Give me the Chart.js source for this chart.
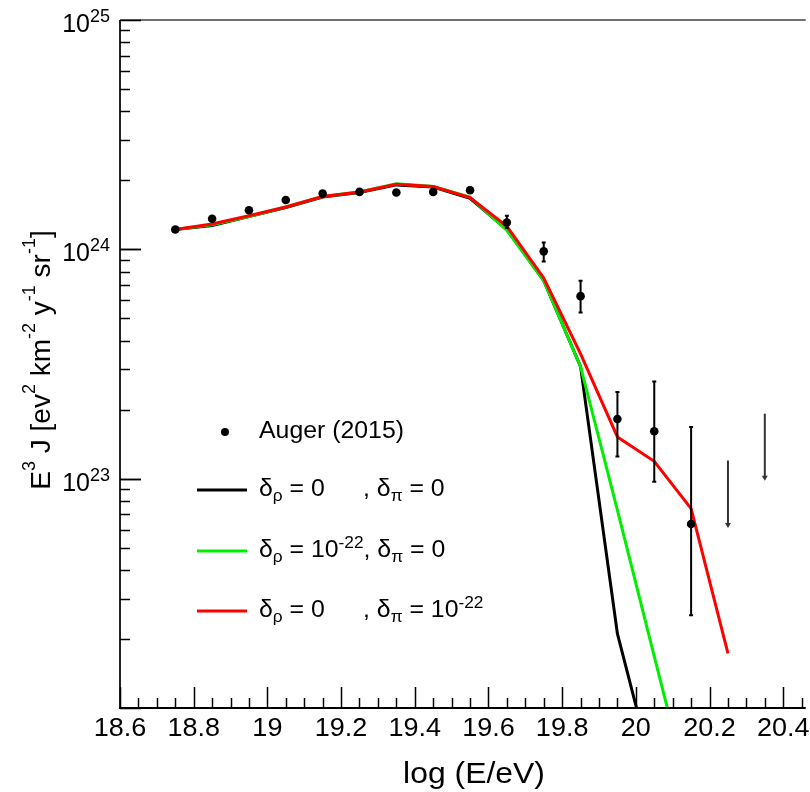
<!DOCTYPE html>
<html lang="en">
<head>
<meta charset="UTF-8" />
<title>UHECR spectrum vs Auger (2015)</title>
<script src="https://cdn.jsdelivr.net/npm/chart.js"></script>
<style>
  body { margin: 0; background: #fff; }
  #wrap { width: 810px; height: 792px; }
</style>
</head>
<body>
<div id="wrap"><canvas id="spectrumChart" width="810" height="792"></canvas></div>
<script>
// bin centres, log10(E/eV)
const logE = [18.75, 18.85, 18.95, 19.05, 19.15, 19.25, 19.35, 19.45, 19.55,
              19.65, 19.75, 19.85, 19.95, 20.05, 20.15, 20.25];

// Auger (2015) points, E^3 J
const augerFlux = [1.22e24, 1.36e24, 1.48e24, 1.64e24, 1.75e24, 1.78e24, 1.77e24, 1.78e24, 1.81e24,
                   1.31e24, 9.8e23, 6.25e23, 1.82e23, 1.61e23, 6.34e22, null];
const augerLow  = [1.19e24, 1.33e24, 1.45e24, 1.61e24, 1.72e24, 1.75e24, 1.74e24, 1.74e24, 1.76e24,
                   1.24e24, 8.85e23, 5.3e23, 1.25e23, 9.7e22, 2.54e22, null];
const augerHigh = [1.25e24, 1.39e24, 1.51e24, 1.67e24, 1.78e24, 1.81e24, 1.80e24, 1.82e24, 1.86e24,
                   1.40e24, 1.07e24, 7.3e23, 2.39e23, 2.65e23, 1.68e23, null];

// upper limits (arrow pointing down)
const limitX      = [20.25, 20.35];
const limitTop    = [1.2e23, 1.92e23];
const limitBottom = [6.1e22, 9.8e22];

// model curves
const fluxBlack = [1.22e24, 1.27e24, 1.39e24, 1.52e24, 1.69e24, 1.77e24, 1.91e24, 1.87e24, 1.67e24,
                   1.22e24, 7.3e23, 3.08e23, 2.11e22, 5.0e21, null, null];
const fluxGreen = [1.22e24, 1.28e24, 1.39e24, 1.53e24, 1.70e24, 1.78e24, 1.93e24, 1.88e24, 1.69e24,
                   1.21e24, 7.3e23, 3.08e23, 7.3e22, 1.68e22, 3.9e21, null];
const fluxRed   = [1.22e24, 1.29e24, 1.40e24, 1.53e24, 1.70e24, 1.78e24, 1.92e24, 1.88e24, 1.68e24,
                   1.26e24, 7.5e23, 3.5e23, 1.52e23, 1.19e23, 7.4e22, 1.73e22];

const xTickLabels = ['18.6', '18.8', '19', '19.2', '19.4', '19.6', '19.8', '20', '20.2', '20.4'];
const yTickExponents = [23, 24, 25];

const FONT = '"Liberation Sans", Arial, Helvetica, sans-serif';
const xMin = 18.6, xMax = 20.461;

function toPoints(arr) {
  return logE.map((x, i) => ({ x: x, y: arr[i] }));
}

// text made of pieces [text, size, dy]; sx stretches glyphs horizontally
function drawRich(ctx, parts, x, y, align, sx) {
  sx = sx || 1;
  const widths = parts.map(p => { ctx.font = p[1] + 'px ' + FONT; return ctx.measureText(p[0]).width * sx; });
  const total = widths.reduce((a, b) => a + b, 0);
  let cx = align === 'center' ? x - total / 2 : (align === 'right' ? x - total : x);
  ctx.textAlign = 'left';
  parts.forEach((p, i) => {
    ctx.font = p[1] + 'px ' + FONT;
    ctx.save();
    ctx.translate(cx, y + p[2]);
    ctx.scale(sx, 1);
    ctx.fillText(p[0], 0, 0);
    ctx.restore();
    cx += widths[i];
  });
  return cx;
}

const errorBars = {
  id: 'errorBars',
  afterDatasetsDraw(chart) {
    const ctx = chart.ctx, xs = chart.scales.x, ys = chart.scales.y;
    ctx.save();
    ctx.strokeStyle = '#000';
    ctx.lineWidth = 2;
    logE.forEach((v, i) => {
      if (augerFlux[i] === null) return;
      const px = xs.getPixelForValue(v);
      const y1 = ys.getPixelForValue(augerHigh[i]), y2 = ys.getPixelForValue(augerLow[i]);
      ctx.beginPath();
      ctx.moveTo(px, y1); ctx.lineTo(px, y2);
      ctx.moveTo(px - 2, y1); ctx.lineTo(px + 2, y1);
      ctx.moveTo(px - 2, y2); ctx.lineTo(px + 2, y2);
      ctx.stroke();
    });
    ctx.strokeStyle = '#333';
    ctx.fillStyle = '#333';
    limitX.forEach((v, i) => {
      const px = xs.getPixelForValue(v);
      const y1 = ys.getPixelForValue(limitTop[i]), y2 = ys.getPixelForValue(limitBottom[i]);
      ctx.beginPath();
      ctx.moveTo(px, y1); ctx.lineTo(px, y2 - 3);
      ctx.stroke();
      ctx.beginPath();
      ctx.moveTo(px - 3, y2 - 5); ctx.lineTo(px + 3, y2 - 5); ctx.lineTo(px, y2);
      ctx.closePath();
      ctx.fill();
    });
    ctx.restore();
  }
};

const frameAndText = {
  id: 'frameAndText',
  afterDraw(chart) {
    const ctx = chart.ctx, a = chart.chartArea;
    const xs = chart.scales.x, ys = chart.scales.y;
    ctx.save();

    // frame
    ctx.lineWidth = 2;
    ctx.strokeStyle = '#707070';
    ctx.beginPath(); ctx.moveTo(a.left, a.top); ctx.lineTo(a.right, a.top); ctx.stroke();
    ctx.strokeStyle = '#222';
    ctx.beginPath(); ctx.moveTo(a.left, a.top); ctx.lineTo(a.left, a.bottom); ctx.stroke();
    ctx.strokeStyle = '#000';
    ctx.beginPath(); ctx.moveTo(a.left - 1, a.bottom); ctx.lineTo(a.right, a.bottom); ctx.stroke();

    // x ticks, inward
    ctx.lineWidth = 1.5;
    ctx.strokeStyle = '#000';
    for (let i = 0; ; i++) {
      const v = xMin + i * 0.05;
      if (v > xMax + 1e-9) break;
      const px = Math.round(xs.getPixelForValue(v)) + 0.5;
      const len = i % 4 === 0 ? 21 : 10;
      ctx.beginPath(); ctx.moveTo(px, a.bottom); ctx.lineTo(px, a.bottom - len); ctx.stroke();
    }
    // y ticks, inward
    for (let n = 22; n <= 24; n++) {
      for (let k = 1; k <= 10; k++) {
        const py = Math.round(ys.getPixelForValue(k * Math.pow(10, n))) + 0.5;
        const len = (k === 1 || k === 10) ? 21 : 10;
        ctx.beginPath(); ctx.moveTo(a.left, py); ctx.lineTo(a.left + len, py); ctx.stroke();
      }
    }

    ctx.fillStyle = '#000';
    ctx.textBaseline = 'alphabetic';

    // x tick labels
    xTickLabels.forEach(l => {
      drawRich(ctx, [[l, 25, 0]], xs.getPixelForValue(parseFloat(l)), 736, 'center', 1.08);
    });
    // y tick labels
    yTickExponents.forEach(e => {
      const py = ys.getPixelForValue(Math.pow(10, e));
      ctx.font = '25px ' + FONT;
      ctx.textAlign = 'right';
      ctx.fillText('10', 90, py + 12);
      ctx.font = '18px ' + FONT;
      ctx.textAlign = 'left';
      ctx.fillText(String(e), 90, py + 2);
    });

    // axis titles
    drawRich(ctx, [['log (E/eV)', 29, 0]], 474, 783, 'center', 1.1);
    ctx.save();
    ctx.translate(50, 360);
    ctx.rotate(-Math.PI / 2);
    drawRich(ctx, [
      ['E', 28, 0], ['3', 18, -15], [' J [ev', 28, 0], ['2', 18, -15],
      [' km', 28, 0], ['-2', 18, -15], [' y', 28, 0], ['-1', 18, -15],
      [' sr', 28, 0], ['-1', 18, -15], [']', 28, 0]
    ], 0, 0, 'center');
    ctx.restore();

    // legend
    ctx.beginPath(); ctx.arc(225, 432, 4, 0, Math.PI * 2); ctx.fill();
    drawRich(ctx, [['Auger (2015)', 23, 0]], 259, 438, 'left', 1.08);

    const rows = [
      { y: 490, color: '#000',
        a: [['\u03b4', 23, 0], ['\u03c1', 16, 5], [' = 0', 23, 0]],
        b: [[', \u03b4', 23, 0], ['\u03c0', 16, 5], [' = 0', 23, 0]] },
      { y: 551, color: '#00ee00',
        a: [['\u03b4', 23, 0], ['\u03c1', 16, 5], [' = 10', 23, 0], ['-22', 16, -9]],
        b: [[', \u03b4', 23, 0], ['\u03c0', 16, 5], [' = 0', 23, 0]] },
      { y: 611, color: '#ff0000',
        a: [['\u03b4', 23, 0], ['\u03c1', 16, 5], [' = 0', 23, 0]],
        b: [[', \u03b4', 23, 0], ['\u03c0', 16, 5], [' = 10', 23, 0], ['-22', 16, -9]] }
    ];
    rows.forEach(r => {
      ctx.strokeStyle = r.color;
      ctx.lineWidth = 3;
      ctx.beginPath(); ctx.moveTo(197, r.y); ctx.lineTo(247, r.y); ctx.stroke();
      const end = drawRich(ctx, r.a, 259, r.y + 6, 'left', 1.08);
      drawRich(ctx, r.b, Math.max(end, 363), r.y + 6, 'left', 1.08);
    });

    ctx.restore();
  }
};

new Chart(document.getElementById('spectrumChart'), {
  type: 'scatter',
  data: {
    datasets: [
      { label: 'Auger (2015)', data: toPoints(augerFlux), showLine: false,
        pointRadius: 4.3, pointBackgroundColor: '#000', pointBorderWidth: 0 },
      { label: 'red', data: toPoints(fluxRed), showLine: true, borderColor: '#ff0000',
        borderWidth: 3, pointRadius: 0 },
      { label: 'green', data: toPoints(fluxGreen), showLine: true, borderColor: '#00ee00',
        borderWidth: 3, pointRadius: 0 },
      { label: 'black', data: toPoints(fluxBlack), showLine: true, borderColor: '#000',
        borderWidth: 3, pointRadius: 0 }
    ]
  },
  options: {
    responsive: false,
    animation: false,
    events: [],
    layout: { padding: { left: 120, top: 20, right: 0, bottom: 84 } },
    plugins: { legend: { display: false }, tooltip: { enabled: false } },
    scales: {
      x: { type: 'linear', min: xMin, max: xMax, display: false },
      y: { type: 'logarithmic', min: 1e22, max: 1e25, display: false }
    }
  },
  plugins: [errorBars, frameAndText]
});
</script>
</body>
</html>
